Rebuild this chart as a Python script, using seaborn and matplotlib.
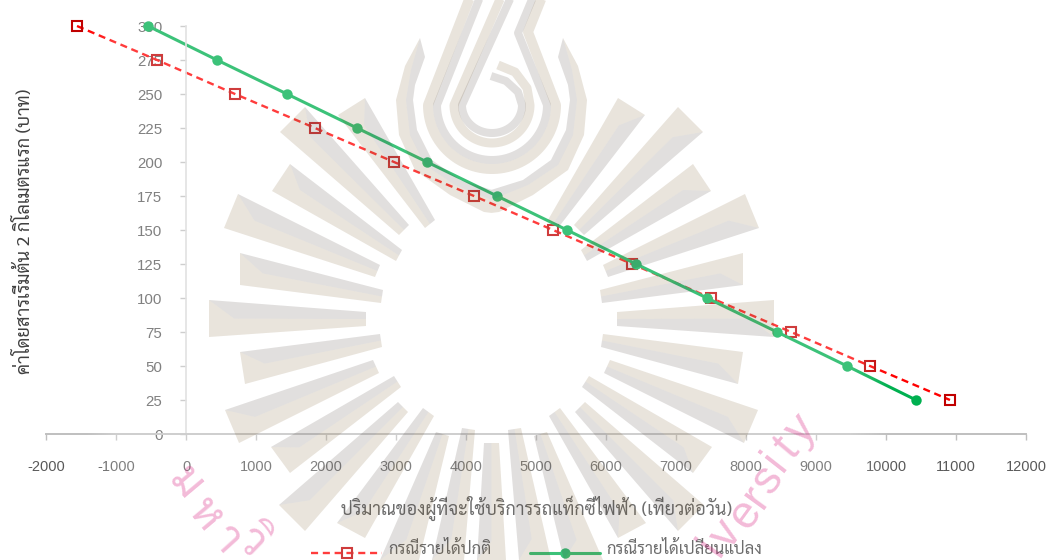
import matplotlib
matplotlib.use("Agg")
import matplotlib.pyplot as plt
import numpy as np
import pandas as pd
import seaborn as sns
from matplotlib.patches import Polygon
from matplotlib.lines import Line2D

W, H = 1051, 560

fare = [300, 275, 250, 225, 200, 175, 150, 125, 100, 75, 50, 25]
normal_demand = [-1557, -414, 700, 1843, 2971, 4114, 5243, 6371, 7500, 8643, 9771, 10914]
changed_demand = [-543, 443, 1443, 2443, 3443, 4443, 5443, 6429, 7443, 8443, 9443, 10429]
x_ticks = list(range(-2000, 12001, 1000))
y_ticks = list(range(0, 301, 25))
normal_label = "กรณีรายได้ปกติ"
changed_label = "กรณีรายได้เปลี่ยนแปลง"
x_title = "ปริมาณของผู้ที่จะใช้บริการรถแท็กซี่ไฟฟ้า (เที่ยวต่อวัน)"
y_title = "ค่าโดยสารเริ่มต้น 2 กิโลเมตรแรก (บาท)"

THAI = ["Sarabun", "Anuphan", "DejaVu Sans"]
RED, RED_MARK, GREEN = "#FF0000", "#C00000", "#00B050"
TEXT, TITLE, AXIS = "#595959", "#404040", "#BFBFBF"

sns.set_theme(style="white")
plt.rcParams["font.family"] = ["Liberation Sans", "DejaVu Sans"]
plt.rcParams["axes.unicode_minus"] = False

fig = plt.figure(figsize=(W / 100, H / 100), dpi=100, facecolor="white")
ax = fig.add_axes([46 / W, 1 - 434 / H, 980 / W, 408 / H])
ax.patch.set_alpha(0)

frame = pd.DataFrame({
    "fare": fare * 2,
    "demand": normal_demand + changed_demand,
    "case": [normal_label] * len(fare) + [changed_label] * len(fare),
})
sns.lineplot(data=frame[frame["case"] == normal_label], x="demand", y="fare", sort=False,
             estimator=None, ax=ax, color=RED, lw=1.7, ls=(0, (3, 2)), marker="s",
             ms=7.5, mfc="none", mec=RED_MARK, mew=1.5, clip_on=False, legend=False)
sns.lineplot(data=frame[frame["case"] == changed_label], x="demand", y="fare", sort=False,
             estimator=None, ax=ax, color=GREEN, lw=2.2, ls="-", marker="o",
             ms=7.5, mfc=GREEN, mec=GREEN, mew=0, clip_on=False, legend=False)

ax.set_xlim(-2000, 12000)
ax.set_ylim(0, 300)
ax.set_xticks(x_ticks)
ax.set_yticks(y_ticks)
ax.set_xlabel("")
ax.set_ylabel("")
sns.despine(ax=ax)
ax.spines["left"].set_position(("data", 0))
ax.spines["left"].set_color("#D9D9D9")
ax.spines["bottom"].set_color(AXIS)
ax.spines["left"].set_linewidth(1.2)
ax.spines["bottom"].set_linewidth(1.4)
ax.tick_params(axis="x", length=4.5, width=1, color=AXIS, labelcolor=TEXT, labelsize=10.5, pad=14, bottom=True)
ax.tick_params(axis="y", length=4.5, width=1, color=AXIS, labelcolor=TEXT, labelsize=10.8, pad=12.5, left=True)

fig.text(536.5 / W, 1 - 508 / H, x_title, family=THAI, fontsize=12.9, color=TITLE, ha="center", va="center")
fig.text(24 / W, 1 - 231 / H, y_title, family=THAI, fontsize=13.1, color=TITLE, ha="center", va="center", rotation=90)

fig.add_artist(Line2D([311 / W, 382 / W], [1 - 553 / H] * 2, color=RED, lw=1.7, ls=(0, (3, 2))))
fig.add_artist(Line2D([346.5 / W], [1 - 553 / H], marker="s", ms=7.5, mfc="none", mec=RED_MARK, mew=1.5))
fig.add_artist(Line2D([530 / W, 600 / W], [1 - 553 / H] * 2, color=GREEN, lw=2.2))
fig.add_artist(Line2D([565 / W], [1 - 553 / H], marker="o", ms=7.5, mfc=GREEN, mew=0))
fig.text(388 / W, 1 - 550 / H, normal_label, family=THAI, fontsize=11.9, color=TITLE, va="center")
fig.text(606 / W, 1 - 550 / H, changed_label, family=THAI, fontsize=11.9, color=TITLE, va="center")

# University seal laid over the plot, in pixel coordinates of the page
seal = fig.add_axes([0, 0, 1, 1], zorder=10)
seal.axis("off")
seal.patch.set_alpha(0)

# white wash that fades out toward the page sides
ramp = np.clip(np.minimum((np.arange(W) - 85) / 30, (890 - np.arange(W)) / 40), 0, 1)
wash = np.ones((1, W, 4))
wash[0, :, 3] = 0.24 * ramp
seal.imshow(wash, extent=(0, W, H, 0), aspect="auto", interpolation="bilinear")
seal.set_xlim(0, W)
seal.set_ylim(H, 0)

BEIGE = dict(facecolor=(108 / 255, 75 / 255, 22 / 255), alpha=0.15, lw=0)
GRAY = dict(facecolor=(55 / 255, 42 / 255, 35 / 255), alpha=0.15, lw=0)
MID = 491.5

# left-hand rays: outer edge pair, then inner edge pair
rays = [
    ((305, 107), (280, 132), (409, 225), (399, 235)),
    ((365, 98), (338, 115), (435, 220), (425, 228)),
    ((290, 164), (272, 191), (402, 250), (396, 261)),
    ((238, 194), (224, 228), (380, 265), (375, 277)),
    ((240, 253), (240, 285), (383, 290), (381, 303)),
    ((209, 300), (209, 337), (366, 312), (366, 326)),
    ((240, 352), (245, 384), (380, 334), (382, 347)),
    ((225, 410), (239, 443), (373, 360), (379, 373)),
    ((271, 447), (290, 473), (394, 376), (401, 387)),
    ((279, 505), (305, 531), (398, 402), (408, 412)),
    ((337, 523), (365, 538), (423, 408), (434, 416)),
    ((380, 560), (419, 560), (436, 432), (449, 436)),
    ((432, 560), (464, 560), (462, 428), (475, 430)),
    ((477, 560), (506, 560), (484, 443), (499, 443)),
]


def draw_ray(outer_a, outer_b, inner_a, inner_b):
    outer_a, outer_b, inner_a, inner_b = map(np.array, (outer_a, outer_b, inner_a, inner_b))
    tip = (outer_a + outer_b) / 2
    root = (inner_a + inner_b) / 2
    fold = tip + (root - tip) * 0.16
    seal.add_patch(Polygon([outer_a, outer_b, inner_b, root, fold], **BEIGE))
    seal.add_patch(Polygon([outer_a, fold, root, inner_a], **GRAY))


def flip(p):
    return (2 * MID - p[0], p[1])


for i, (a, b, c, d) in enumerate(rays):
    draw_ray(a, b, c, d)
    if i < len(rays) - 1:
        draw_ray(flip(b), flip(a), flip(d), flip(c))

left_outer = [(420, 38), (405, 66), (396, 100), (399, 135), (415, 170), (450, 195), (484, 212), (492, 213)]
left_split = [(420, 38), (411, 70), (406, 100), (410, 135), (425, 165), (455, 185), (492, 200)]
left_inner = [(420, 38), (425, 57), (415, 85), (413, 100), (417, 130), (432, 160), (460, 180), (492, 190)]


def band(edge_a, edge_b):
    a = edge_a + [flip(p) for p in edge_a[::-1]]
    b = edge_b + [flip(p) for p in edge_b[::-1]]
    return a + b[::-1]


seal.add_patch(Polygon(band(left_outer, left_split), **BEIGE))
seal.add_patch(Polygon(band(left_split, left_inner), **GRAY))


def u_curve(rx, ry, cy, start, end):
    t = np.radians(np.linspace(180, 0, 60))
    pts = np.column_stack([492 + rx * np.cos(t), cy + ry * np.sin(t)])
    return np.vstack([start, pts, end])


def stroke(points, width, style):
    seal.plot(points[:, 0], points[:, 1], color=style["facecolor"], alpha=0.15, lw=width * 0.72,
              solid_capstyle="butt", solid_joinstyle="round")


stroke(u_curve(64, 64, 105, [(470, -3)], [(528, 32), (542, -3)]), 10, BEIGE)
stroke(u_curve(55, 55, 105, [(480, -3)], [(518, 33), (533, -3)]), 8, GRAY)
stroke(u_curve(38, 38, 105, [(501, -3)], [(527, 88), (515, 72), (498, 65)]), 9, BEIGE)
stroke(u_curve(30, 28, 105, [(511, -3)], [(518, 92), (506, 81), (491, 76)]), 8, GRAY)

# pink lettering that follows the seal's rim
PINK = dict(color="#D81B7F", alpha=0.3, ha="center", va="center", rotation_mode="anchor")
latin_rim = [("i", 712, 547, 56), ("v", 727, 535, 55), ("e", 746, 514, 54), ("r", 757, 497, 54),
             ("s", 768, 480, 53), ("i", 776, 462, 52), ("t", 787, 448, 50), ("y", 801, 430, 48)]
for ch, px, py, rot in latin_rim:
    seal.text(px, py, ch, fontsize=33, rotation=rot, **PINK)
thai_rim = [("ม", 185, 483, -50), ("ห", 205, 515, -50), ("า", 226, 540, -48), ("วิ", 252, 542, -44)]
for ch, px, py, rot in thai_rim:
    seal.text(px, py, ch, fontsize=32, rotation=rot, family=THAI, **PINK)

fig.savefig("out.png", dpi=100)
